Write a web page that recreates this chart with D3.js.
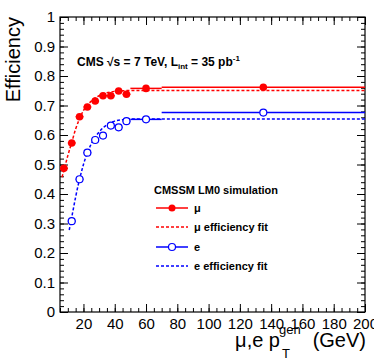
<!DOCTYPE html>
<html><head><meta charset="utf-8">
<script src="https://cdn.jsdelivr.net/npm/d3@7"></script>
<style>
body{margin:0;background:#fff;}
svg{display:block;font-family:"Liberation Sans",Arial,Helvetica,sans-serif;}
</style></head>
<body><svg id="c" width="374" height="359"></svg>
<script>
// ---- data ----
const muBinLo  = [5,10,15,20,25,30,35,40,45,50,70];
const muBinHi  = [10,15,20,25,30,35,40,45,50,70,200];
const muEff    = [0.487,0.573,0.662,0.695,0.715,0.733,0.733,0.749,0.738,0.758,0.762];
const eBinLo   = [10,15,20,25,30,35,40,45,50,70];
const eBinHi   = [15,20,25,30,35,40,45,50,70,200];
const eEff     = [0.308,0.450,0.540,0.583,0.598,0.632,0.626,0.647,0.653,0.676];
const muFitX   = [6.3,7.5,10,12.5,15,17.5,20,25,30,35,40,45,50,60,200];
const muFitY   = [0.457,0.480,0.530,0.575,0.620,0.655,0.683,0.715,0.733,0.743,0.748,0.750,0.751,0.751,0.751];
const eFitX    = [10.9,13,15,17.5,20,25,30,35,40,45,50,60,200];
const eFitY    = [0.278,0.335,0.390,0.450,0.500,0.570,0.610,0.635,0.647,0.652,0.654,0.654,0.654];
const xMajor   = [20,40,60,80,100,120,140,160,180,200];
const yMajor   = [0,0.1,0.2,0.3,0.4,0.5,0.6,0.7,0.8,0.9,1];
const legendLabels = ["\u03bc","\u03bc efficiency fit","e","e efficiency fit"];

const svg = d3.select("#c");
const L=60,R=365,T=17,B=312;
const x = d3.scaleLinear().domain([5,200]).range([L,R]);
const y = d3.scaleLinear().domain([0,1]).range([B,T]);
const xMinor = d3.range(5,201,5);
const yMinor = d3.range(0,1.0001,0.02).map(v=>+v.toFixed(2));

function styleAxis(g){g.select(".domain").remove();g.selectAll("line").attr("stroke","#000").attr("stroke-width",1);}
const fmt = d=>String(Math.round(d*10)/10);

// bottom
svg.append("g").attr("transform",`translate(0,${B})`).call(d3.axisBottom(x).tickValues(xMinor).tickSize(-4).tickFormat("")).call(styleAxis);
svg.append("g").attr("transform",`translate(0,${B})`).call(d3.axisBottom(x).tickValues(xMajor).tickSize(-8).tickPadding(6).tickFormat(d=>d)).call(styleAxis)
  .selectAll("text").attr("font-size",15).attr("fill","#000").attr("font-family","Liberation Sans, Arial, sans-serif");
// top
svg.append("g").attr("transform",`translate(0,${T})`).call(d3.axisTop(x).tickValues(xMinor).tickSize(-4).tickFormat("")).call(styleAxis);
svg.append("g").attr("transform",`translate(0,${T})`).call(d3.axisTop(x).tickValues(xMajor).tickSize(-8).tickFormat("")).call(styleAxis);
// left
svg.append("g").attr("transform",`translate(${L},0)`).call(d3.axisLeft(y).tickValues(yMinor).tickSize(-4).tickFormat("")).call(styleAxis);
svg.append("g").attr("transform",`translate(${L},0)`).call(d3.axisLeft(y).tickValues(yMajor).tickSize(-8).tickPadding(5).tickFormat(fmt)).call(styleAxis)
  .selectAll("text").attr("font-size",15).attr("fill","#000").attr("font-family","Liberation Sans, Arial, sans-serif");
// right
svg.append("g").attr("transform",`translate(${R},0)`).call(d3.axisRight(y).tickValues(yMinor).tickSize(-4).tickFormat("")).call(styleAxis);
svg.append("g").attr("transform",`translate(${R},0)`).call(d3.axisRight(y).tickValues(yMajor).tickSize(-8).tickFormat("")).call(styleAxis);

svg.append("rect").attr("x",L).attr("y",T).attr("width",R-L).attr("height",B-T)
  .attr("fill","none").attr("stroke","#000").attr("stroke-width",1.2);

const red="#ff0000", blue="#0000ff";
const line=d3.line().x(d=>x(d[0])).y(d=>y(d[1])).curve(d3.curveMonotoneX);

// fits
svg.append("path").datum(muFitX.map((v,i)=>[v,muFitY[i]])).attr("d",line)
  .attr("fill","none").attr("stroke",red).attr("stroke-width",1.5).attr("stroke-dasharray","3,2");
svg.append("path").datum(eFitX.map((v,i)=>[v,eFitY[i]])).attr("d",line)
  .attr("fill","none").attr("stroke",blue).attr("stroke-width",1.5).attr("stroke-dasharray","3,2");

// error bars
function drawSeries(lo,hi,val,col,filled){
  const g=svg.append("g");
  val.forEach((v,i)=>{
    g.append("line").attr("x1",x(lo[i])).attr("x2",x(hi[i])).attr("y1",y(v)).attr("y2",y(v))
      .attr("stroke",col).attr("stroke-width",1.5);
    const c=(lo[i]+hi[i])/2;
    g.append("circle").attr("cx",x(c)).attr("cy",y(v)).attr("r",filled?3.8:3.5)
      .attr("fill",filled?col:"#fff").attr("stroke",col).attr("stroke-width",filled?0:1.2);
  });
}
drawSeries(muBinLo,muBinHi,muEff,red,true);
drawSeries(eBinLo,eBinHi,eEff,blue,false);

// header
const h=svg.append("text").attr("x",77).attr("y",66).attr("font-size",12).attr("font-weight","bold").attr("fill","#000");
h.append("tspan").text("CMS  \u221as = 7 TeV, L");
h.append("tspan").attr("font-size",8).attr("dy",3).text("int");
h.append("tspan").attr("dy",-3).text(" = 35 pb");
h.append("tspan").attr("font-size",8).attr("dy",-5).text("-1");

// legend
svg.append("text").attr("x",154).attr("y",194).attr("font-size",11).attr("font-weight","bold").text("CMSSM LM0 simulation");
const rows=[208,227,247,266];
const cols=[red,red,blue,blue];
rows.forEach((ry,i)=>{
  const dashed=(i%2===1);
  svg.append("line").attr("x1",156).attr("x2",188).attr("y1",ry).attr("y2",ry)
    .attr("stroke",cols[i]).attr("stroke-width",1.5).attr("stroke-dasharray",dashed?"3,2":null);
  if(!dashed){
    svg.append("circle").attr("cx",172).attr("cy",ry).attr("r",3.5)
      .attr("fill",i===0?red:"#fff").attr("stroke",cols[i]).attr("stroke-width",i===0?0:1.2);
  }
  svg.append("text").attr("x",194).attr("y",ry+4).attr("font-size",11).attr("font-weight","bold").text(legendLabels[i]);
});

// axis titles
svg.append("text").attr("transform","translate(20,17) rotate(-90)").attr("text-anchor","end")
  .attr("font-size",20).text("Efficiency");
svg.append("text").attr("x",280).attr("y",347).attr("text-anchor","end").attr("font-size",20).text("\u03bc,e p");
svg.append("text").attr("x",279).attr("y",334).attr("font-size",13).text("gen");
svg.append("text").attr("x",282).attr("y",358).attr("font-size",13).text("T");
svg.append("text").attr("x",366).attr("y",347).attr("text-anchor","end").attr("font-size",20).text("(GeV)");
</script></body></html>
